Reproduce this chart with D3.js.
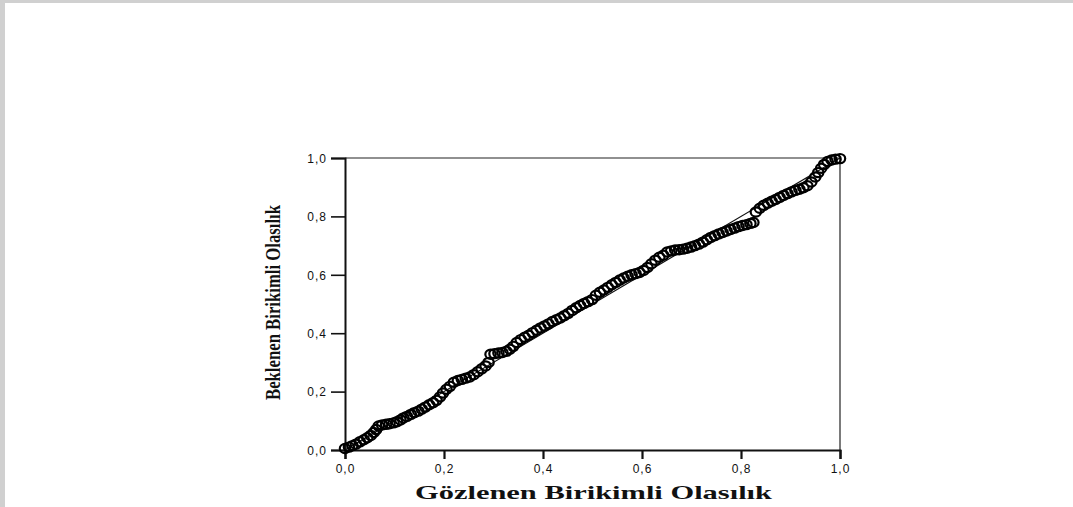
<!DOCTYPE html>
<html>
<head>
<meta charset="utf-8">
<script src="https://cdn.jsdelivr.net/npm/d3@7"></script>
<style>
  html, body { margin: 0; padding: 0; background: #fff; }
  body { width: 1073px; height: 507px; overflow: hidden; position: relative; }
  #frame { position: absolute; left: 0; top: 0; width: 1073px; height: 507px;
           box-sizing: border-box; border-top: 3px solid #d0d0d0; border-left: 5px solid #d0d0d0; }
  svg { position: absolute; left: 0; top: 0; }
</style>
</head>
<body>
<div id="frame"></div>
<svg id="svg" width="1073" height="507"></svg>
<script>
// observed cumulative probability (x) and expected cumulative probability (y)
const observed = [
  0.000, 0.008, 0.015, 0.022, 0.030, 0.038, 0.045, 0.052, 0.058, 0.063,
  0.068, 0.075, 0.083, 0.090, 0.098, 0.105, 0.112, 0.118, 0.125, 0.133,
  0.140, 0.148, 0.155, 0.162, 0.170, 0.178, 0.185, 0.192, 0.198, 0.205,
  0.212, 0.220, 0.228, 0.236, 0.244, 0.252, 0.260, 0.268, 0.276, 0.284,
  0.290, 0.294, 0.302, 0.310, 0.318, 0.326, 0.333, 0.340, 0.347, 0.355,
  0.363, 0.371, 0.379, 0.387, 0.395, 0.403, 0.411, 0.419, 0.427, 0.435,
  0.443, 0.451, 0.459, 0.467, 0.475, 0.483, 0.491, 0.499, 0.507, 0.515,
  0.523, 0.531, 0.539, 0.547, 0.555, 0.563, 0.571, 0.579, 0.587, 0.595,
  0.603, 0.611, 0.619, 0.627, 0.635, 0.643, 0.651, 0.659, 0.667, 0.675,
  0.683, 0.691, 0.699, 0.707, 0.715, 0.723, 0.731, 0.739, 0.747, 0.755,
  0.763, 0.771, 0.779, 0.787, 0.795, 0.803, 0.811, 0.819, 0.825,
  0.830, 0.838, 0.846, 0.854, 0.862, 0.870, 0.878, 0.886, 0.894, 0.902,
  0.910, 0.918, 0.926, 0.934, 0.942, 0.950, 0.956, 0.962, 0.968, 0.975,
  0.983, 0.991, 1.000
];
const expected = [
  0.005, 0.010, 0.015, 0.020, 0.028, 0.035, 0.042, 0.050, 0.060, 0.070,
  0.082, 0.086, 0.088, 0.090, 0.093, 0.097, 0.103, 0.110, 0.115, 0.122,
  0.128, 0.133, 0.140, 0.147, 0.155, 0.162, 0.170, 0.182, 0.195, 0.208,
  0.218, 0.232, 0.238, 0.242, 0.246, 0.250, 0.258, 0.268, 0.278, 0.288,
  0.300, 0.328, 0.330, 0.332, 0.334, 0.338, 0.345, 0.355, 0.368, 0.378,
  0.386, 0.393, 0.402, 0.410, 0.418, 0.425, 0.432, 0.440, 0.446, 0.452,
  0.460, 0.468, 0.478, 0.487, 0.495, 0.502, 0.508, 0.515, 0.530, 0.540,
  0.548, 0.557, 0.566, 0.574, 0.582, 0.589, 0.595, 0.600, 0.604, 0.608,
  0.615, 0.625, 0.638, 0.650, 0.660, 0.667, 0.678, 0.682, 0.685, 0.686,
  0.688, 0.691, 0.695, 0.700, 0.705, 0.712, 0.720, 0.728, 0.734, 0.740,
  0.745, 0.750, 0.755, 0.760, 0.765, 0.769, 0.772, 0.776, 0.779,
  0.815, 0.828, 0.838, 0.845, 0.852, 0.858, 0.865, 0.872, 0.878, 0.884,
  0.889, 0.893, 0.898, 0.905, 0.918, 0.935, 0.950, 0.965, 0.978, 0.988,
  0.993, 0.996, 0.998
];
const tickValues = [0, 0.2, 0.4, 0.6, 0.8, 1.0];
const xTitle = "Gözlenen Birikimli Olasılık";
const yTitle = "Beklenen Birikimli Olasılık";

const svg = d3.select("#svg");
const plot = { left: 345, right: 840, top: 158, bottom: 450 };

const x = d3.scaleLinear().domain([0, 1]).range([plot.left, plot.right]);
const y = d3.scaleLinear().domain([0, 1]).range([plot.bottom, plot.top]);
const fmt = d => d3.format(".1f")(d).replace(".", ",");

// ----- frame (top / right thin lines) -----
svg.append("line")
  .attr("x1", x(0)).attr("x2", x(1)).attr("y1", y(1)).attr("y2", y(1))
  .attr("stroke", "#222").attr("stroke-width", 1.2);
svg.append("line")
  .attr("x1", x(1)).attr("x2", x(1)).attr("y1", y(0)).attr("y2", y(1))
  .attr("stroke", "#222").attr("stroke-width", 1.2);

// ----- axes -----
const xAxis = svg.append("g")
  .attr("transform", `translate(0,${plot.bottom})`)
  .call(d3.axisBottom(x).tickValues(tickValues).tickFormat(fmt).tickSize(9).tickPadding(5));
const yAxis = svg.append("g")
  .attr("transform", `translate(${plot.left},0)`)
  .call(d3.axisLeft(y).tickValues(tickValues).tickFormat(fmt).tickSize(14).tickPadding(4));

[xAxis, yAxis].forEach(g => {
  g.select(".domain").attr("stroke", "#111").attr("stroke-width", 2);
  g.selectAll(".tick text")
    .attr("font-family", "'Liberation Sans', Arial, sans-serif")
    .attr("font-size", 12)
    .attr("letter-spacing", 1)
    .attr("fill", "#111");
});
xAxis.selectAll(".tick line").attr("stroke", "#111").attr("stroke-width", 2.2);
yAxis.selectAll(".tick line").attr("stroke", "#111").attr("stroke-width", 1.6);
yAxis.selectAll(".tick text").attr("dy", "0.35em");

// ----- diagonal reference line -----
svg.append("line")
  .attr("x1", x(0)).attr("y1", y(0)).attr("x2", x(1)).attr("y2", y(1))
  .attr("stroke", "#111").attr("stroke-width", 1.2);

// ----- points -----
const pts = observed.map((v, i) => ({ o: v, e: expected[i] }));
svg.append("g").selectAll("ellipse")
  .data(pts)
  .enter()
  .append("ellipse")
  .attr("cx", d => x(d.o))
  .attr("cy", d => y(d.e))
  .attr("rx", 5.2)
  .attr("ry", 4.6)
  .attr("fill", "none")
  .attr("stroke", "#000")
  .attr("stroke-width", 2.2);

// ----- titles -----
svg.append("text")
  .attr("x", 415).attr("y", 499)
  .attr("font-family", "'Liberation Serif', 'Times New Roman', serif")
  .attr("font-weight", "bold")
  .attr("font-size", 19)
  .attr("textLength", 357)
  .attr("lengthAdjust", "spacingAndGlyphs")
  .attr("fill", "#111")
  .text(xTitle);

svg.append("text")
  .attr("transform", "translate(280,400) rotate(-90)")
  .attr("font-family", "'Liberation Serif', 'Times New Roman', serif")
  .attr("font-weight", "bold")
  .attr("font-size", 22)
  .attr("textLength", 195)
  .attr("lengthAdjust", "spacingAndGlyphs")
  .attr("fill", "#111")
  .text(yTitle);
</script>
</body>
</html>
